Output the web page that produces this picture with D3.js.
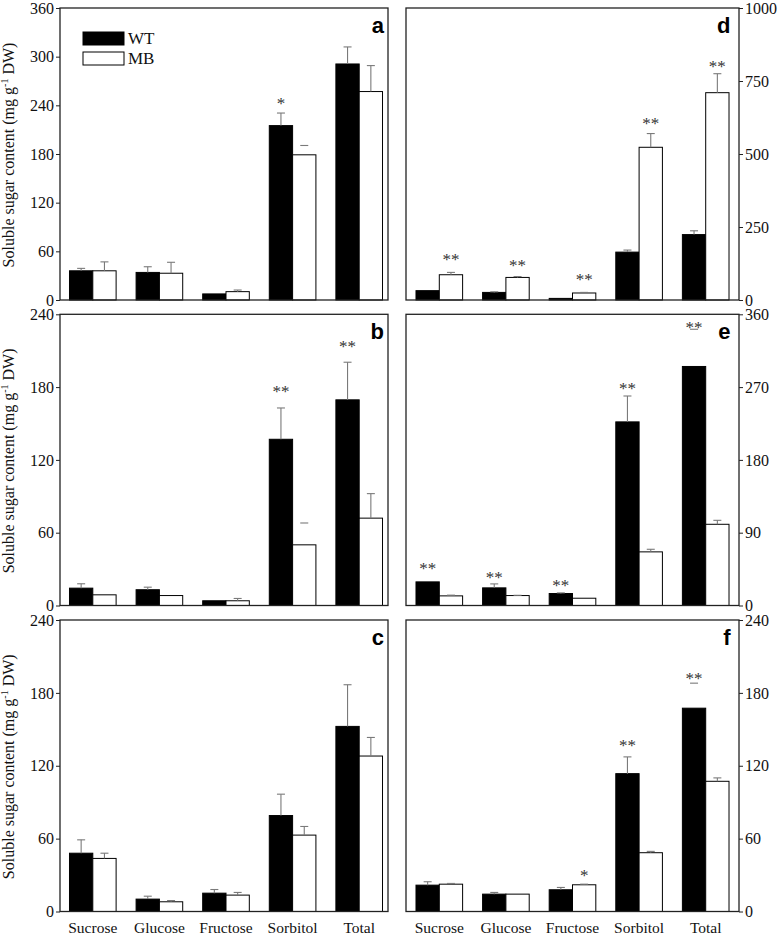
<!DOCTYPE html>
<html><head><meta charset="utf-8">
<script src="https://cdn.jsdelivr.net/npm/d3@7"></script>
<style>body{margin:0;background:#fff}</style>
</head><body><svg id="chart" width="778" height="938"></svg>
<script>
// ---------- data ----------
const categories = ["Sucrose", "Glucose", "Fructose", "Sorbitol", "Total"];
const seriesNames = ["WT", "MB"];

// panel a
const aWT = [36, 34, 7.5, 215, 291];
const aWTErr = [3, 7, 0, 15.5, 21];
const aMB = [36, 33, 10.3, 179, 257];
const aMBErr = [11, 13.5, 2, 11.5, 32];
const aSig = [{cat: "Sorbitol", s: "WT", label: "*", at: 247}];
const aCapOnly = [{cat: "Sorbitol", s: "MB"}];
const aTicks = [0, 60, 120, 180, 240, 300, 360];

// panel b
const bWT = [14.3, 13, 3.9, 137, 169.5];
const bWTErr = [3.6, 2.1, 0, 25.8, 31];
const bMB = [8.8, 8.2, 3.9, 50, 72];
const bMBErr = [0, 0, 1.9, 18, 20.2];
const bSig = [{cat: "Sorbitol", s: "WT", label: "**", at: 179}, {cat: "Total", s: "WT", label: "**", at: 216}];
const bCapOnly = [{cat: "Sorbitol", s: "MB"}];
const bTicks = [0, 60, 120, 180, 240];

// panel c
const cWT = [48, 10.2, 15.1, 79, 152.4];
const cWTErr = [11, 2.4, 3, 17.6, 34.3];
const cMB = [43.7, 8, 13.5, 62.9, 128];
const cMBErr = [4.3, 1, 2.2, 7.1, 15.3];
const cSig = [];
const cCapOnly = [];
const cTicks = [0, 60, 120, 180, 240];

// panel d
const dWT = [32, 26, 5.5, 164, 224];
const dWTErr = [0, 2, 0, 7, 13];
const dMB = [86.5, 77.3, 24, 523, 710];
const dMBErr = [8, 3, 2, 47, 65];
const dSig = [
  {cat: "Sucrose", s: "MB", label: "**", at: 151},
  {cat: "Glucose", s: "MB", label: "**", at: 131},
  {cat: "Fructose", s: "MB", label: "**", at: 81},
  {cat: "Sorbitol", s: "MB", label: "**", at: 616},
  {cat: "Total", s: "MB", label: "**", at: 810}];
const dCapOnly = [];
const dTicks = [0, 250, 500, 750, 1000];

// panel e
const eWT = [29.2, 21.8, 14.8, 227, 295.5];
const eWTErr = [0, 4.9, 0.8, 32, 46];
const eMB = [11.9, 12.3, 9, 66.3, 100.4];
const eMBErr = [0.9, 0.3, 0, 3.2, 4.9];
const eSig = [
  {cat: "Sucrose", s: "WT", label: "**", at: 49.8},
  {cat: "Glucose", s: "WT", label: "**", at: 39},
  {cat: "Fructose", s: "WT", label: "**", at: 29.2},
  {cat: "Sorbitol", s: "WT", label: "**", at: 272.8},
  {cat: "Total", s: "WT", label: "**", at: 347.7}];
const eCapOnly = [{cat: "Total", s: "WT"}];
const eTicks = [0, 90, 180, 270, 360];

// panel f
const fWT = [21.7, 14.3, 17.9, 113.5, 167.4];
const fWTErr = [2.8, 1.4, 1.9, 13.8, 20.6];
const fMB = [22.5, 14.3, 22, 48.4, 107.2];
const fMBErr = [0.6, 0, 0.5, 1.1, 2.8];
const fSig = [
  {cat: "Fructose", s: "MB", label: "*", at: 32.2},
  {cat: "Sorbitol", s: "WT", label: "**", at: 139.4},
  {cat: "Total", s: "WT", label: "**", at: 194.9}];
const fCapOnly = [{cat: "Total", s: "WT"}];
const fTicks = [0, 60, 120, 180, 240];

// ---------- layout ----------
const cols = [
  {x0: 60, x1: 388, bandStart: 59.5, side: "left"},
  {x0: 406, x1: 739, bandStart: 406, side: "right"}];
const rows = [
  {top: 8, bottom: 300},
  {top: 314.3, bottom: 605.5},
  {top: 620, bottom: 911.5}];
const bandSpan = 333;

const panels = [
  {id: "a", col: 0, row: 0, wt: aWT, wtErr: aWTErr, mb: aMB, mbErr: aMBErr, sig: aSig, capOnly: aCapOnly, ticks: aTicks, legend: true},
  {id: "b", col: 0, row: 1, wt: bWT, wtErr: bWTErr, mb: bMB, mbErr: bMBErr, sig: bSig, capOnly: bCapOnly, ticks: bTicks},
  {id: "c", col: 0, row: 2, wt: cWT, wtErr: cWTErr, mb: cMB, mbErr: cMBErr, sig: cSig, capOnly: cCapOnly, ticks: cTicks, xlabels: true},
  {id: "d", col: 1, row: 0, wt: dWT, wtErr: dWTErr, mb: dMB, mbErr: dMBErr, sig: dSig, capOnly: dCapOnly, ticks: dTicks},
  {id: "e", col: 1, row: 1, wt: eWT, wtErr: eWTErr, mb: eMB, mbErr: eMBErr, sig: eSig, capOnly: eCapOnly, ticks: eTicks},
  {id: "f", col: 1, row: 2, wt: fWT, wtErr: fWTErr, mb: fMB, mbErr: fMBErr, sig: fSig, capOnly: fCapOnly, ticks: fTicks, xlabels: true}];

const svg = d3.select("#chart");
svg.append("rect").attr("width", 778).attr("height", 938).attr("fill", "#fff");

const serif = "'Liberation Serif','Times New Roman',serif";
const sans = "'Liberation Sans',Arial,sans-serif";
const fills = {WT: "#000", MB: "#fff"};

panels.forEach(p => {
  const c = cols[p.col], r = rows[p.row];
  const g = svg.append("g");
  const x = d3.scaleBand().domain(categories)
    .range([c.bandStart, c.bandStart + bandSpan]).paddingInner(0.3).paddingOuter(0.15);
  const xs = d3.scaleBand().domain(seriesNames).range([0, x.bandwidth()]);
  const ymax = p.ticks[p.ticks.length - 1];
  const y = d3.scaleLinear().domain([0, ymax]).range([r.bottom, r.top]);

  const rowsData = [];
  categories.forEach((cat, i) => {
    rowsData.push({cat, s: "WT", v: p.wt[i], e: p.wtErr[i]});
    rowsData.push({cat, s: "MB", v: p.mb[i], e: p.mbErr[i]});
  });

  // bars
  g.selectAll("rect.bar").data(rowsData).enter().append("rect")
    .attr("x", d => x(d.cat) + xs(d.s))
    .attr("y", d => y(d.v))
    .attr("width", xs.bandwidth())
    .attr("height", d => y(0) - y(d.v))
    .attr("fill", d => fills[d.s])
    .attr("stroke", "#000").attr("stroke-width", 1);

  // error bars (upper half only)
  rowsData.filter(d => d.e > 0).forEach(d => {
    const cx = x(d.cat) + xs(d.s) + xs.bandwidth() / 2;
    const capOnly = p.capOnly.some(q => q.cat === d.cat && q.s === d.s);
    if (!capOnly) {
      g.append("line").attr("x1", cx).attr("x2", cx)
        .attr("y1", y(d.v)).attr("y2", y(d.v + d.e))
        .attr("stroke", "#7a7a7a").attr("stroke-width", 1.1);
    }
    g.append("line").attr("x1", cx - 4).attr("x2", cx + 4)
      .attr("y1", y(d.v + d.e)).attr("y2", y(d.v + d.e))
      .attr("stroke", "#7a7a7a").attr("stroke-width", 1.1);
  });

  // significance marks
  g.selectAll("text.sig").data(p.sig).enter().append("text")
    .attr("x", d => x(d.cat) + xs(d.s) + xs.bandwidth() / 2)
    .attr("y", d => y(d.at) + 9)
    .attr("text-anchor", "middle")
    .attr("font-family", serif).attr("font-size", 17)
    .attr("fill", "#333")
    .text(d => d.label);

  // frame
  g.append("rect").attr("x", c.x0).attr("y", r.top)
    .attr("width", c.x1 - c.x0).attr("height", r.bottom - r.top)
    .attr("fill", "none").attr("stroke", "#222").attr("stroke-width", 1.3);

  // y axis
  const axis = (c.side === "left" ? d3.axisLeft(y) : d3.axisRight(y))
    .tickValues(p.ticks).tickSize(4).tickPadding(2).tickFormat(d3.format("d"));
  const ag = g.append("g")
    .attr("transform", `translate(${c.side === "left" ? c.x0 : c.x1},0)`)
    .call(axis);
  ag.select(".domain").remove();
  ag.selectAll("line").attr("stroke", "#222").attr("stroke-width", 1);
  ag.selectAll("text").attr("font-family", serif).attr("font-size", 16).attr("fill", "#111");

  // panel letter
  g.append("text")
    .attr("x", x("Total") + x.bandwidth() + 1.5)
    .attr("y", r.top + 25)
    .attr("text-anchor", "end")
    .attr("font-family", sans).attr("font-weight", "bold").attr("font-size", 22)
    .text(p.id);

  // y title on left column
  if (c.side === "left") {
    const t = g.append("text")
      .attr("transform", `translate(14,${(r.top + r.bottom) / 2 + 1}) rotate(-90)`)
      .attr("text-anchor", "middle")
      .attr("font-family", serif).attr("font-size", 16).attr("fill", "#111");
    t.append("tspan").text("Soluble sugar content (mg g");
    t.append("tspan").attr("dy", -6).attr("font-size", 10).text("-1");
    t.append("tspan").attr("dy", 6).text(" DW)");
  }

  // x labels
  if (p.xlabels) {
    g.selectAll("text.xl").data(categories).enter().append("text")
      .attr("x", d => x(d) + x.bandwidth() / 2)
      .attr("y", 933)
      .attr("text-anchor", "middle")
      .attr("font-family", serif).attr("font-size", 15.5).attr("fill", "#111")
      .text(d => d);
  }

  // legend
  if (p.legend) {
    seriesNames.forEach((s, i) => {
      g.append("rect").attr("x", 83).attr("y", 32 + i * 20)
        .attr("width", 41).attr("height", 13)
        .attr("fill", fills[s]).attr("stroke", "#000").attr("stroke-width", 1);
      g.append("text").attr("x", 128).attr("y", 43.5 + i * 20.8)
        .attr("font-family", serif).attr("font-size", 17).attr("fill", "#111")
        .text(s);
    });
  }
});
</script></body></html>
